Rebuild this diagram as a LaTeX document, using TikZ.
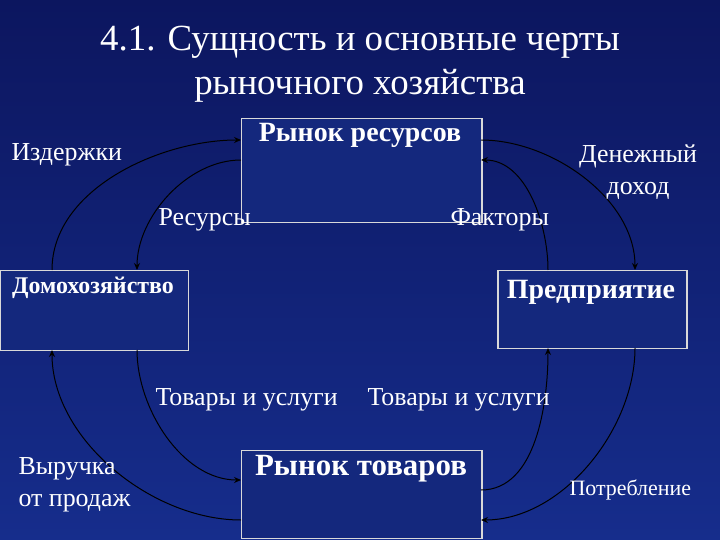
\documentclass[tikz,border=0pt]{standalone}
\usepackage{fontspec}
\setmainfont{Liberation Serif}
\usetikzlibrary{arrows.meta}
\definecolor{bgtop}{RGB}{12,22,95}
\definecolor{bgbot}{RGB}{22,45,140}
\definecolor{boxfill}{RGB}{20,40,125}
\begin{document}
\begin{tikzpicture}[x=1bp,y=-1bp,
  box/.style={draw=gray!30,line width=1.5pt,fill=boxfill,anchor=north west,inner sep=0},
  lbl/.style={text=white,font=\fontsize{26}{32}\selectfont,align=center},
  flow/.style={black,line width=1pt,-{Stealth[length=7pt,width=6pt]}}]
\shade[top color=bgtop,bottom color=bgbot] (0,0) rectangle (720,540);
\useasboundingbox (0,0) rectangle (720,540);
\node[text=white,font=\fontsize{37}{44}\selectfont,align=center] (title) at (360,64) {4.1. Сущность и основные черты\\рыночного хозяйства};
\node[box,minimum width=240bp,minimum height=104bp] (rr) at (241,118) {};
\node[text=white,font=\bfseries\fontsize{28}{32}\selectfont] (rrt) at (360,135) {Рынок ресурсов};
\node[box,minimum width=188bp,minimum height=80bp] (hh) at (0,270) {};
\node[text=white,font=\bfseries\fontsize{24}{28}\selectfont] (hht) at (93,288) {Домохозяйство};
\node[box,minimum width=189bp,minimum height=78bp] (ff) at (497,270) {};
\node[text=white,font=\bfseries\fontsize{28}{32}\selectfont] (fft) at (591,292) {Предприятие};
\node[box,minimum width=240bp,minimum height=88bp] (gm) at (241,450) {};
\node[text=white,font=\bfseries\fontsize{31}{35}\selectfont] (gmt) at (361,469) {Рынок товаров};
\coordinate (h1) at (52,270); \coordinate (h2) at (137,270);
\coordinate (h3) at (52,350); \coordinate (h4) at (137,350);
\coordinate (f1) at (548,270); \coordinate (f2) at (635,270);
\coordinate (f3) at (548,348); \coordinate (f4) at (635,348);
\coordinate (r1) at (241,140); \coordinate (r2) at (241,160);
\coordinate (r3) at (481,140); \coordinate (r4) at (481,160);
\coordinate (g1) at (241,480); \coordinate (g2) at (241,520);
\coordinate (g3) at (481,490); \coordinate (g4) at (481,520);
\draw[flow] (h1) to[out=90,in=180,looseness=0.9] (r1);
\draw[flow] (r2) to[out=180,in=90,looseness=0.9] (h2);
\draw[flow] (f1) to[out=90,in=0,looseness=0.9] (r4);
\draw[flow] (r3) to[out=0,in=90,looseness=0.9] (f2);
\draw[flow] (h4) to[out=-90,in=180,looseness=0.9] (g1);
\draw[flow] (g2) to[out=180,in=-90,looseness=0.9] (h3);
\draw[flow] (g3) to[out=0,in=-90,looseness=0.9] (f3);
\draw[flow] (f4) to[out=-90,in=0,looseness=0.9] (g4);
\node[lbl,anchor=west] (l1) at (8,155) {Издержки};
\node[lbl] (l2) at (638,172) {Денежный\\доход};
\node[lbl,anchor=west] (l3) at (155,220) {Ресурсы};
\node[lbl,anchor=west] (l4) at (447,220) {Факторы};
\node[lbl,anchor=west] (l5) at (152,400) {Товары и услуги};
\node[lbl,anchor=west] (l6) at (364,400) {Товары и услуги};
\node[lbl,align=left,anchor=west] (l7) at (15,485) {Выручка\\от продаж};
\node[lbl,anchor=west,font=\fontsize{22}{26}\selectfont] (l8) at (566,490) {Потребление};
\end{tikzpicture}
\end{document}
